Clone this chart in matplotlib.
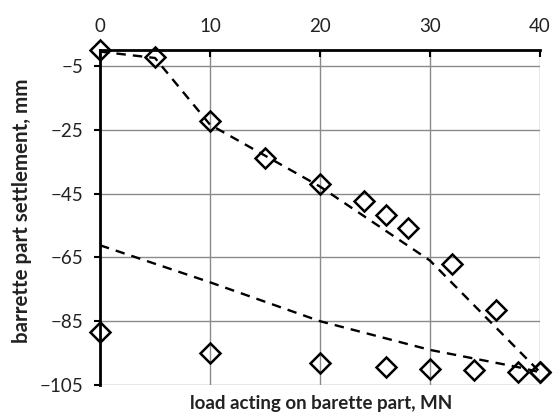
import matplotlib
matplotlib.use("Agg")
import matplotlib.pyplot as plt

# Measured points (diamonds)
upper_x = [0, 5, 10, 15, 20, 24, 26, 28, 32, 36, 40]
upper_y = [0, -2.2, -22.2, -34, -42, -47.2, -51.6, -55.7, -67, -81.6, -101]
lower_x = [0, 10, 20, 26, 30, 34, 38, 40]
lower_y = [-88.4, -95, -98.1, -99.4, -100, -100.3, -101, -101]

# Dashed curves
curve1_x = [0, 5, 10, 20, 30, 40]
curve1_y = [-0.5, -2.5, -23.4, -42.8, -66, -101]
curve2_x = [0, 10, 20, 30, 38, 40]
curve2_y = [-61.2, -72.8, -85, -94, -99.4, -101]

xticks = [0, 10, 20, 30, 40]
yticks = [-5, -25, -45, -65, -85, -105]

plt.rcParams['font.family'] = ['Lato', 'DejaVu Sans']

fig = plt.figure(figsize=(5.53, 4.12), dpi=100)
ax = fig.add_axes([100/553, 1 - 385/412, 440/553, 335/412])

ax.plot(curve1_x, curve1_y, color='black', lw=1.7, ls=(0, (4, 3)), zorder=3)
ax.plot(curve2_x, curve2_y, color='black', lw=1.7, ls=(0, (4, 3)), zorder=3)
ax.plot(upper_x, upper_y, ls='none', marker='D', ms=10, mfc='none',
        mec='black', mew=1.8, zorder=4, clip_on=False)
ax.plot(lower_x, lower_y, ls='none', marker='D', ms=10, mfc='none',
        mec='black', mew=1.8, zorder=4, clip_on=False)

ax.set_xlim(0, 40)
ax.set_ylim(-105, 0)
ax.set_xticks(xticks)
ax.set_yticks(yticks)
ax.xaxis.tick_top()
ax.tick_params(axis='x', direction='in', length=5, width=1.5, labelsize=13.5, pad=11)
ax.tick_params(axis='y', direction='out', length=4, width=1.5, labelsize=13.5, pad=8)
ax.tick_params(axis='x', labelcolor='#222222')
ax.tick_params(axis='y', labelcolor='#222222')

ax.grid(True, color='#8a8a8a', lw=1.0, zorder=1)
ax.set_axisbelow(True)
for s in ['right', 'bottom']:
    ax.spines[s].set_visible(False)
for s in ['left', 'top']:
    ax.spines[s].set_linewidth(2.0)
    ax.spines[s].set_color('black')
    ax.spines[s].set_zorder(5)

fig.text(321/553, 1 - 409/412, 'load acting on barette part, MN', ha='center', va='baseline',
         fontsize=13.5, fontweight='bold', color='#222222')
fig.text(22/553, 1 - 211/412, 'barrette part settlement, mm', ha='center', va='center',
         rotation=90, fontsize=14.8, fontweight='bold', color='#222222')

fig.savefig('out.png', dpi=100)
